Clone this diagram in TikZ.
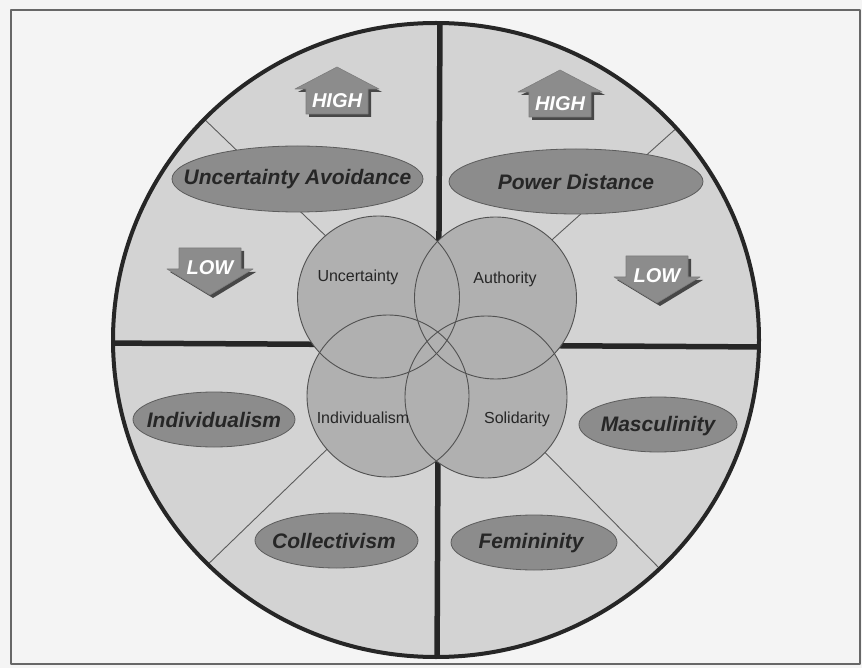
\documentclass[tikz,border=0pt]{standalone}
\usepackage{fontspec}
\setmainfont{Liberation Sans}
\usetikzlibrary{shapes.geometric}
\definecolor{dimpaper}{HTML}{F4F4F4}
\definecolor{dimsector}{HTML}{D3D3D3}
\definecolor{dimvenn}{HTML}{B0B0B0}
\definecolor{dimoval}{HTML}{8C8C8C}
\definecolor{dimink}{HTML}{262626}

\begin{document}
\begin{tikzpicture}[
  x=1pt,
  y=-1pt,
  line join=round,
  rim/.style={draw=dimink,line width=4pt},
  divider/.style={draw=dimink,line width=5.5pt},
  spoke/.style={draw=dimink!75,line width=0.9pt},
  oval/.style={ellipse,fill=dimoval,draw=dimink!75,line width=0.8pt,inner sep=0pt},
  ovaltext/.style={font=\fontsize{21}{24}\selectfont\bfseries\itshape,text=dimink},
  venn/.style={circle,fill=dimvenn,inner sep=0pt,minimum size=162pt},
  vennedge/.style={draw=dimink!80,line width=0.9pt},
  venntext/.style={font=\fontsize{16}{18}\selectfont,text=dimink},
  arrowbody/.style={fill=dimoval,draw=dimink!60,line width=0.6pt},
  arrowshade/.style={fill=dimink!85},
  arrowtext/.style={font=\fontsize{20}{22}\selectfont\bfseries\itshape,text=white},
  pics/uparrow/.style={code={
    \fill[arrowshade,shift={(3,3)}] (-31,25) -- (-31,0) -- (-42,0) -- (0,-22) -- (42,0) -- (31,0) -- (31,25) -- cycle;
    \path[arrowbody] (-31,25) -- (-31,0) -- (-42,0) -- (0,-22) -- (42,0) -- (31,0) -- (31,25) -- cycle;
    \node[arrowtext] (-label) at (0,12) {#1};
  }},
  pics/downarrow/.style={code={
    \fill[arrowshade,shift={(3,3)}] (-31,-21) -- (-31,0) -- (-43,0) -- (0,26) -- (43,0) -- (31,0) -- (31,-21) -- cycle;
    \path[arrowbody] (-31,-21) -- (-31,0) -- (-43,0) -- (0,26) -- (43,0) -- (31,0) -- (31,-21) -- cycle;
    \node[arrowtext] (-label) at (0,-1) {#1};
  }}
]
  % Paper and the thin frame round the figure.
  \path[use as bounding box,fill=dimpaper] (0,0) rectangle (862,668);
  \draw[draw=dimink!70,line width=1.2pt] (11,10) rectangle (860,664);

  % Big disc, split into four quarters.
  \coordinate (hub) at (437,343);
  \coordinate (nw) at (200,115);
  \coordinate (ne) at (680,125);
  \coordinate (sw) at (200,572);
  \coordinate (se) at (665,574);
  \fill[dimsector] (436,340) ellipse[x radius=323,y radius=317];
  \begin{scope}
    \clip (436,340) ellipse[x radius=323,y radius=317];
    \draw[spoke] (hub) -- (nw);
    \draw[spoke] (hub) -- (ne);
    \draw[spoke] (hub) -- (sw);
    \draw[spoke] (hub) -- (se);
    \draw[divider] (440,10) -- (437,670);
    \draw[divider] (100,343) -- (770,347);
  \end{scope}
  \draw[rim] (436,340) ellipse[x radius=323,y radius=317];

  % Dimension ovals.
  \node[oval,minimum width=251pt,minimum height=66pt] (ua) at (297.5,179) {};
  \node[ovaltext] (uaT) at (ua) {Uncertainty Avoidance};
  \node[oval,minimum width=254pt,minimum height=65pt] (pd) at (576,181.5) {};
  \node[ovaltext] (pdT) at (pd) {Power Distance};
  \node[oval,minimum width=162pt,minimum height=55pt] (indiv) at (214,419.5) {};
  \node[ovaltext] (indivT) at (indiv) {Individualism};
  \node[oval,minimum width=163pt,minimum height=55pt] (coll) at (336.5,540.5) {};
  \node[ovaltext] (collT) at (334,541) {Collectivism};
  \node[oval,minimum width=158pt,minimum height=55pt] (masc) at (658,424.5) {};
  \node[ovaltext] (mascT) at (658,426) {Masculinity};
  \node[oval,minimum width=166pt,minimum height=55pt] (fem) at (534,542.5) {};
  \node[ovaltext] (femT) at (531,543) {Femininity};

  % High / low markers.
  \pic (hiUA) at (337,89) {uparrow=HIGH};
  \pic (hiPD) at (560,92) {uparrow=HIGH};
  \pic (loUA) at (210,269) {downarrow=LOW};
  \pic (loPD) at (657,277) {downarrow=LOW};

  % Four overlapping circles in the middle.
  \node[venn] (unc) at (378.5,297) {};
  \node[venn] (aut) at (495.5,298) {};
  \node[venn] (ind) at (388,396) {};
  \node[venn] (sol) at (486,397) {};
  \foreach \c in {unc,aut,ind,sol} {
    \draw[vennedge] (\c) circle[radius=81];
  }
  \node[venntext] (uncT) at (358,277) {Uncertainty};
  \node[venntext] (autT) at (505,279) {Authority};
  \node[venntext] (indT) at (363,418) {Individualism};
  \node[venntext] (solT) at (517,419) {Solidarity};
\end{tikzpicture}
\end{document}
